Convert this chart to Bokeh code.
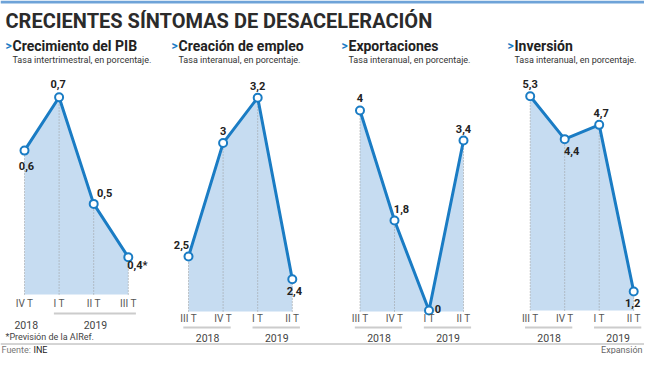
from bokeh.plotting import figure
from bokeh.models import Range1d, ColumnDataSource
from bokeh.core.properties import value
from bokeh.embed import file_html
from bokeh.resources import INLINE

# ---------------- data ----------------
main_title = "CRECIENTES SÍNTOMAS DE DESACELERACIÓN"
titles = ["Crecimiento del PIB", "Creación de empleo", "Exportaciones", "Inversión"]
subtitles = ["Tasa intertrimestral, en porcentaje.", "Tasa interanual, en porcentaje.",
             "Tasa interanual, en porcentaje.", "Tasa interanual, en porcentaje."]

pib_quarters = ["IV T", "I T", "II T", "III T"]
pib_quarter_years = ["2018", "2019", "2019", "2019"]
pib_values = [0.6, 0.7, 0.5, 0.4]

quarters = ["III T", "IV T", "I T", "II T"]
quarter_years = ["2018", "2018", "2019", "2019"]
empleo_values = [2.5, 3.0, 3.2, 2.4]
export_values = [4.0, 1.8, 0.0, 3.4]
inversion_values = [5.3, 4.4, 4.7, 1.2]

forecast_flag = [False, False, False, True]   # PIB III T is a forecast (AIReF)
footnote = "*Previsión de la AIRef."
source_label = "Fuente:"
source_name = "INE"
brand = "Expansión"

# ---------------- style / layout (pixel space of the 644x354 canvas) ----------------
FONT = value("Roboto")
BLUE = "#1a7cc4"
FILL = "#c6dcf1"
DARK = "#222222"
GREY = "#555555"

panels = [
    dict(values=pib_values, q=pib_quarters, yrs=pib_quarter_years, flags=forecast_flag,
         tx=5, x0=24.0, dx=34.6, vb=0.33, yb=294.0, s=533.0, qy=303, uy=313, yy=324,
         offs=[(2, 15), (-1, -13), (11, -11), (9, 8)]),
    dict(values=empleo_values, q=quarters, yrs=quarter_years, flags=[False] * 4,
         tx=171, x0=188.0, dx=34.6, vb=2.258, yb=311.0, s=227.0, qy=318, uy=327, yy=337,
         offs=[(-7, -12), (0, -12), (0, -12), (2, 12)]),
    dict(values=export_values, q=quarters, yrs=quarter_years, flags=[False] * 4,
         tx=341, x0=359.5, dx=34.5, vb=-0.02, yb=311.0, s=50.0, qy=318, uy=327, yy=337,
         offs=[(0, -13), (7, -12), (9, -2), (0, -12)]),
    dict(values=inversion_values, q=quarters, yrs=quarter_years, flags=[False] * 4,
         tx=507, x0=529.7, dx=34.5, vb=0.80, yb=310.0, s=47.6, qy=318, uy=327, yy=337,
         offs=[(0, -12), (7, 12), (2, -12), (-1, 12)]),
]

W, H = 644, 354
p = figure(width=W, height=H, x_range=Range1d(0, W), y_range=Range1d(H, 0),
           output_backend="svg", toolbar_location=None, x_axis_type=None, y_axis_type=None,
           min_border=0, outline_line_color=None, background_fill_color="white",
           border_fill_color="white")


def fmt(v, flag):
    t = ("%g" % v).replace(".", ",")
    return t + ("*" if flag else "")


# header
p.quad(left=[0], right=[W], top=[0], bottom=[3], color="#6ea3d8", line_width=0)
p.text(x=[5], y=[20], text=[main_title], text_font=FONT, text_font_size="20px",
       text_font_style="bold", text_color="#2b2b2b", text_baseline="middle")

for k, pn in enumerate(panels):
    n = len(pn["values"])
    xr, yr = "x%d" % k, "y%d" % k
    p.extra_x_ranges[xr] = Range1d(-pn["x0"] / pn["dx"], (W - pn["x0"]) / pn["dx"])
    p.extra_y_ranges[yr] = Range1d(pn["vb"] - (H - pn["yb"]) / pn["s"], pn["vb"] + pn["yb"] / pn["s"])

    idx = list(range(n))
    src = ColumnDataSource(dict(
        x=idx, y=pn["values"], base=[pn["vb"]] * n,
        lab=[fmt(v, f) for v, f in zip(pn["values"], pn["flags"])],
        ox=[o[0] for o in pn["offs"]], oy=[o[1] for o in pn["offs"]],
    ))
    kw = dict(source=src, x_range_name=xr, y_range_name=yr)

    # panel titles
    p.text(x=[pn["tx"]], y=[45], text=[">"], text_font=FONT, text_font_size="12px",
           text_font_style="bold", text_color=BLUE, text_baseline="middle")
    p.text(x=[pn["tx"] + 7], y=[45], text=[titles[k]], text_font=FONT, text_font_size="14px",
           text_font_style="bold", text_color=DARK, text_baseline="middle")
    p.text(x=[pn["tx"] + 7], y=[59], text=[subtitles[k]], text_font=FONT, text_font_size="9px",
           text_color="#333333", text_baseline="middle")

    # area, guides, line, points
    p.varea(x="x", y1="base", y2="y", fill_color=FILL, **kw)
    p.segment(x0="x", y0="base", x1="x", y1="y", line_color="#9a9a9a", line_width=1,
              line_dash="1 2", **kw)
    p.line(x="x", y="y", line_color=BLUE, line_width=3, line_join="round", **kw)
    p.scatter(x="x", y="y", size=8, marker="circle", fill_color="white",
              line_color=BLUE, line_width=2, **kw)
    p.text(x="x", y="y", text="lab", x_offset="ox", y_offset="oy", text_font=FONT,
           text_font_size="11px", text_font_style="bold", text_color=DARK,
           text_align="center", text_baseline="middle", **kw)

    # category axis: quarters, year underlines, years
    p.text(x=idx, y=[pn["qy"]] * n, text=pn["q"], x_range_name=xr, text_font=FONT,
           text_font_size="10px", text_color=GREY, text_align="center", text_baseline="middle")
    groups = {}
    for i, yv in enumerate(pn["yrs"]):
        groups.setdefault(yv, []).append(i)
    for yv, members in groups.items():
        if len(members) > 1:
            p.segment(x0=[members[0] - 0.15], x1=[members[-1] + 0.22], y0=[pn["uy"]], y1=[pn["uy"]],
                      x_range_name=xr, line_color="#cccccc", line_width=2)
        p.text(x=[sum(members) / len(members) + 0.05], y=[pn["yy"]], text=[yv], x_range_name=xr,
               text_font=FONT, text_font_size="10.5px", text_color="#444444",
               text_align="center", text_baseline="middle")

# footnote & footer
p.text(x=[5], y=[336], text=[footnote], text_font=FONT, text_font_size="9px",
       text_color="#444444", text_baseline="middle")
p.segment(x0=[0], x1=[W], y0=[343.5], y1=[343.5], line_color="#aaaaaa", line_width=1)
p.text(x=[1], y=[349.5], text=[source_label], text_font=FONT, text_font_size="9px",
       text_color="#777777", text_baseline="middle")
p.text(x=[33], y=[349.5], text=[source_name], text_font=FONT, text_font_size="9px",
       text_color="#222222", text_baseline="middle")
p.text(x=[W - 2], y=[349.5], text=[brand], text_font=FONT, text_font_size="9px",
       text_color="#666666", text_align="right", text_baseline="middle")

open("out.html", "w").write(file_html(p, INLINE))
